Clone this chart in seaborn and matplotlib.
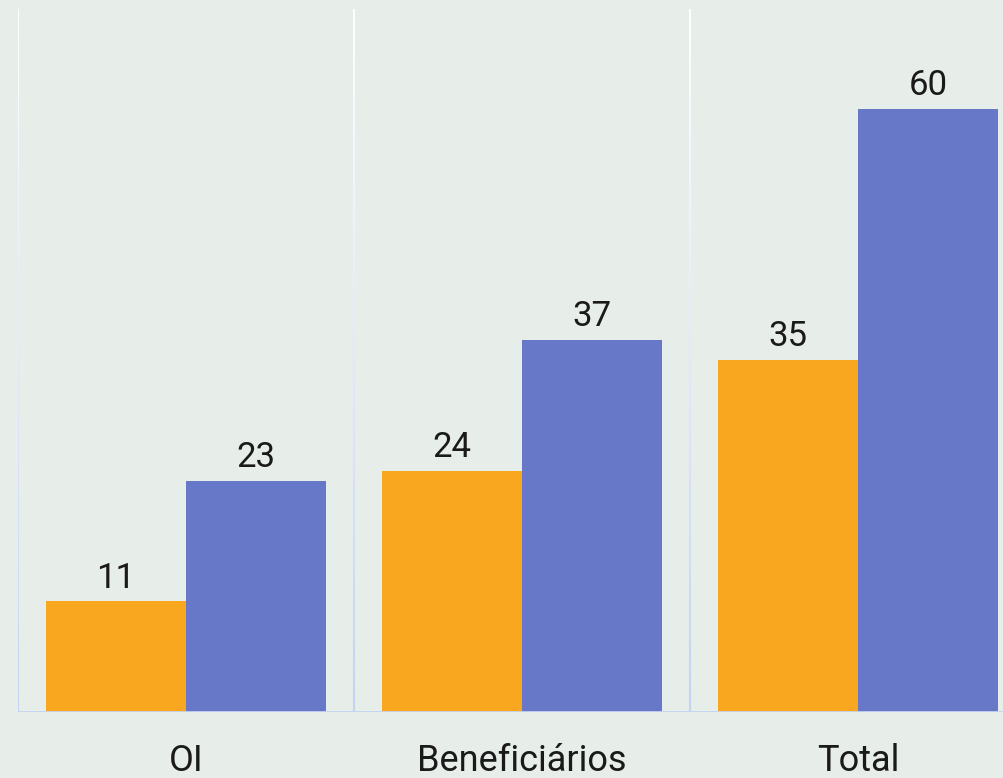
import numpy as np
import pandas as pd
import matplotlib
matplotlib.use("Agg")
import matplotlib.pyplot as plt
import seaborn as sns

sns.set_theme(style="white")
plt.rcParams["font.family"] = ["Roboto", "DejaVu Sans"]

categories = ["OI", "Beneficiários", "Total"]
series_names = ["Série 1", "Série 2"]
values_a = [11, 24, 35]
values_b = [23, 37, 60]

BG = "#e7ede9"
ORANGE = "#f9a71e"
BLUE = "#6878c8"
LINE = "#c5d3f2"
TXT = "#1a1a1a"

df = pd.DataFrame({
    "categoria": categories * 2,
    "serie": [series_names[0]] * 3 + [series_names[1]] * 3,
    "valor": values_a + values_b,
})

fig = plt.figure(figsize=(10.04, 7.78), dpi=100, facecolor=BG)
ax = fig.add_axes([18 / 1004, 66 / 778, 1008 / 1004, 712 / 778])
ax.set_facecolor(BG)

sns.barplot(data=df, x="categoria", y="valor", hue="serie",
            palette=[ORANGE, BLUE], width=0.8333, gap=0, saturation=1,
            edgecolor="none", legend=False, ax=ax)

for cont in ax.containers:
    ax.bar_label(cont, padding=5, fontsize=25, color=TXT)

ax.set_xlim(-0.5, 2.5)
ax.set_ylim(0, 70.85)

# separator lines fading to white at the top
for xs in [-0.5, 0.5, 1.5]:
    n = 40
    ys = np.linspace(0, 70, n + 1)
    for i in range(n):
        t = i / n
        c = np.array(matplotlib.colors.to_rgb(LINE)) * (1 - t) + np.array([1, 1, 1]) * t
        ax.plot([xs, xs], [ys[i], ys[i + 1]], color=c, lw=1.5, solid_capstyle="butt", zorder=0)
ax.axhline(0, color=LINE, lw=2, zorder=3)

for s in ax.spines.values():
    s.set_visible(False)
ax.set_yticks([])
ax.set_xlabel("")
ax.set_ylabel("")
ax.tick_params(axis="x", length=0, pad=22, labelsize=26, labelcolor=TXT)

fig.savefig("out.png", dpi=100, facecolor=BG)
